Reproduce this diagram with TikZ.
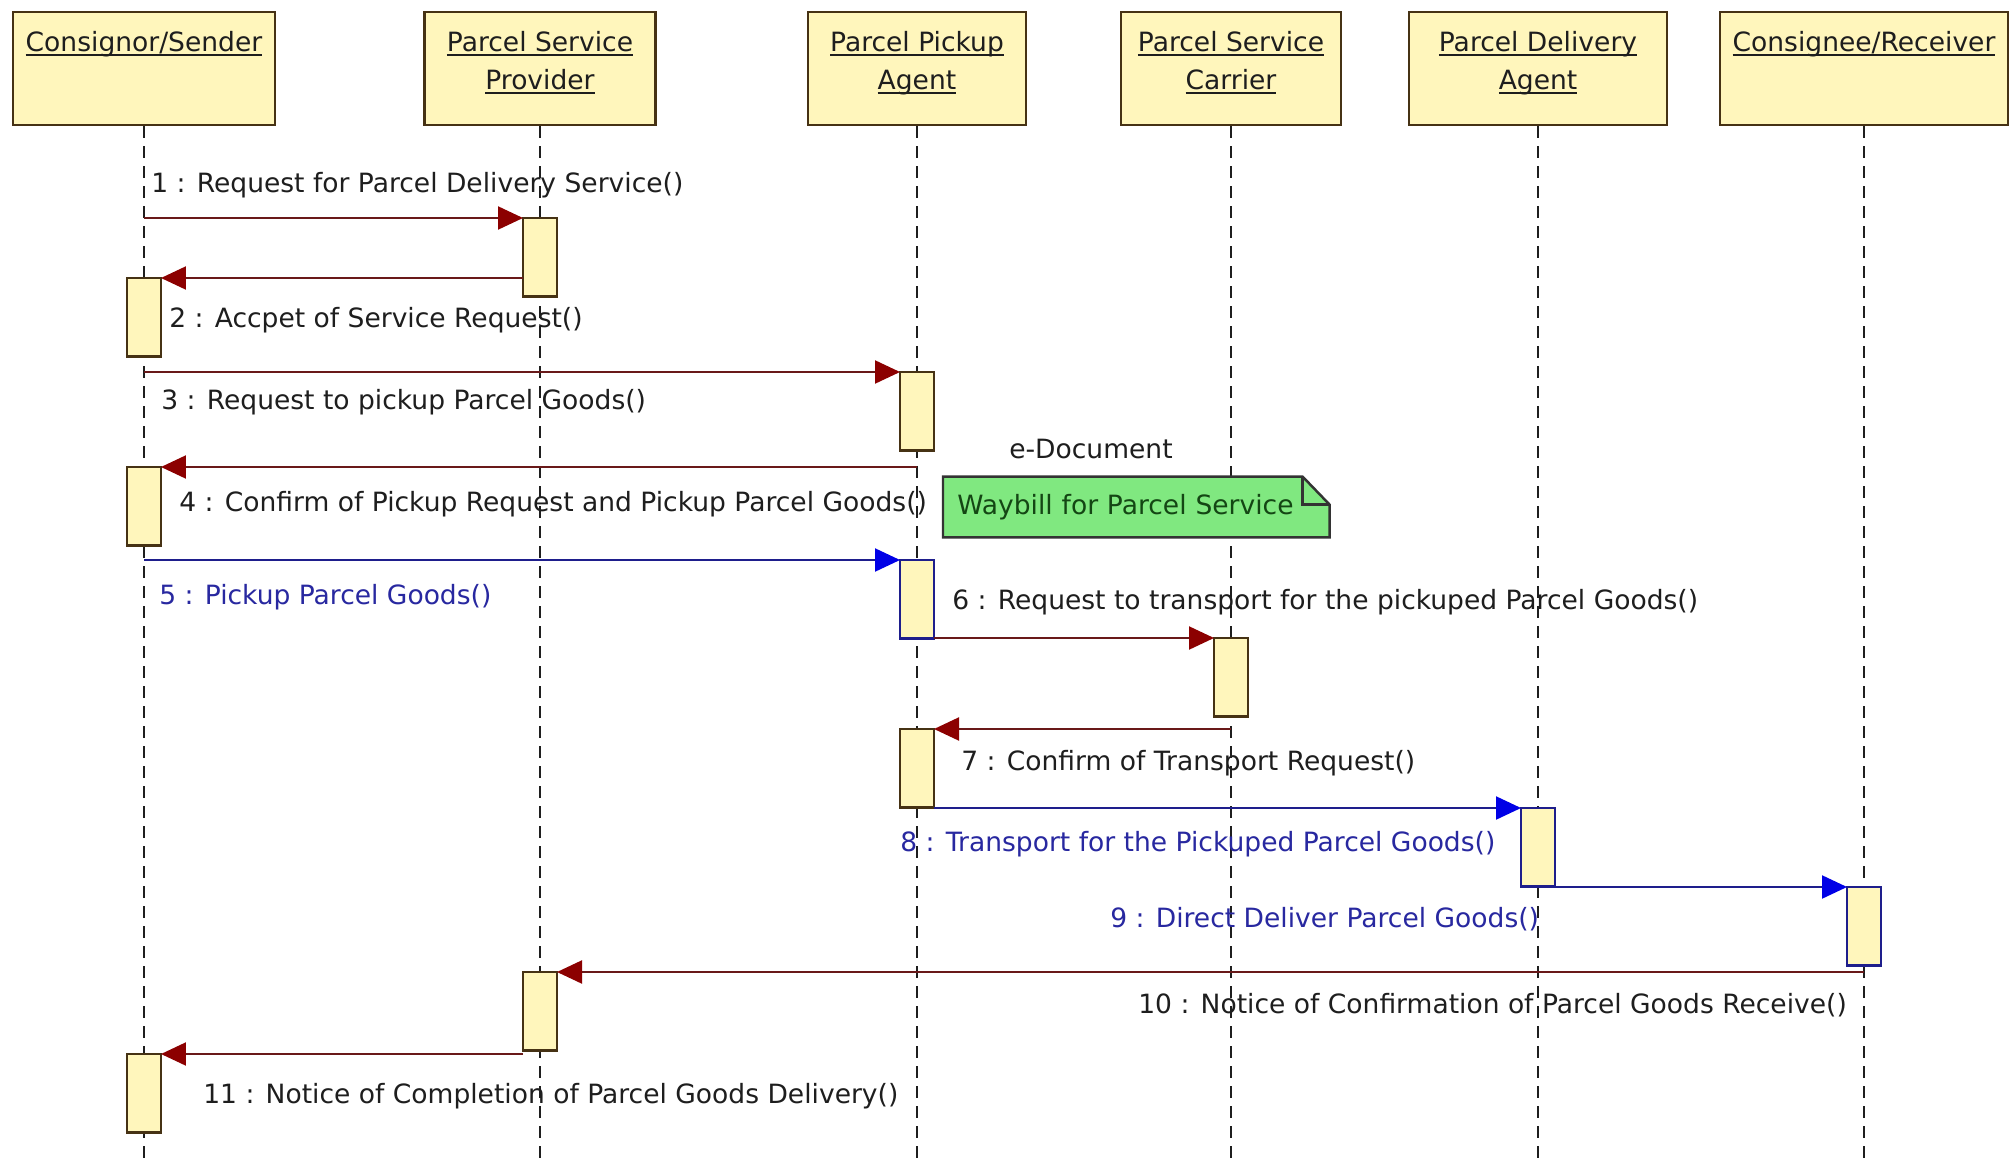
\documentclass[tikz,border=0pt]{standalone}
\usepackage{fontspec}
\setmainfont{DejaVu Sans}
\usetikzlibrary{positioning,arrows.meta}

\definecolor{headfill}{RGB}{255,246,188}
\definecolor{boxline}{RGB}{70,50,20}
\definecolor{msgred}{RGB}{105,25,25}
\definecolor{tipred}{RGB}{140,0,0}
\definecolor{msgblue}{RGB}{30,30,140}
\definecolor{tipblue}{RGB}{0,0,230}
\definecolor{bluetext}{RGB}{40,40,160}
\definecolor{notefill}{RGB}{128,232,128}
\definecolor{notetext}{RGB}{20,70,20}
\definecolor{labeltext}{RGB}{30,30,30}

\newcommand{\seqfont}{\fontsize{15.1pt}{21.6pt}\selectfont}
\newcommand{\uname}[1]{\setbox0\hbox{#1}\rlap{\rule[-0.16em]{\wd0}{0.07em}}\box0}

\tikzset{
  head/.style={draw=boxline, fill=headfill, line width=1.6pt, minimum height=2.26cm, inner sep=0pt},
  headtext/.style={anchor=north, align=center, inner sep=0pt, font=\seqfont, text=labeltext},
  act/.style={anchor=north, draw=boxline, fill=headfill, line width=1.3pt, minimum width=0.68cm, minimum height=1.57cm, inner sep=0pt, outer sep=0pt},
  actb/.style={act, draw=msgblue},
  life/.style={draw=labeltext, line width=1.3pt, dash pattern=on 0.24cm off 0.16cm},
  msg/.style={draw=msgred, line width=1.2pt, -{Triangle[length=0.5cm,width=0.46cm,color=tipred]}},
  msgb/.style={draw=msgblue, line width=1.2pt, -{Triangle[length=0.5cm,width=0.46cm,color=tipblue]}},
  lbl/.style={anchor=west, inner sep=0pt, font=\seqfont, text=labeltext},
  lblb/.style={lbl, text=bluetext},
  noteline/.style={draw=black!80, line width=1.4pt},
  notebox/.style={anchor=west, text width=7.16cm, inner xsep=0.28cm, inner ysep=0pt, minimum height=1.2cm,
    font=\seqfont, text=notetext,
    path picture={\fill[notefill] (path picture bounding box.south west)
      |- ([xshift=-0.54cm]path picture bounding box.north east)
      -- ([yshift=-0.56cm]path picture bounding box.north east)
      -- (path picture bounding box.south east) -- cycle;}},
}

\begin{document}
\begin{tikzpicture}[x=0.02cm, y=-0.02cm]
    \fill[white] (0,0) rectangle (2010,1161);
    % heads of the lifelines
    \node[head, minimum width=5.24cm] (hS) at (144,68.5) {};
    \node[head, minimum width=4.62cm] (hP) at (540,68.5) {};
    \node[head, minimum width=4.36cm] (hA) at (917,68.5) {};
    \node[head, minimum width=4.40cm] (hC) at (1231,68.5) {};
    \node[head, minimum width=5.16cm] (hD) at (1538,68.5) {};
    \node[head, minimum width=5.76cm] (hR) at (1864,68.5) {};
    \node[headtext] (tS) at (144,31) {\uname{Consignor/Sender}};
    \node[headtext] (tP) at (540,31) {\uname{Parcel Service}\\\uname{Provider}};
    \node[headtext] (tA) at (917,31) {\uname{Parcel Pickup}\\\uname{Agent}};
    \node[headtext] (tC) at (1231,31) {\uname{Parcel Service}\\\uname{Carrier}};
    \node[headtext] (tD) at (1538,31) {\uname{Parcel Delivery}\\\uname{Agent}};
    \node[headtext] (tR) at (1864,31) {\uname{Consignee/Receiver}};
    % lifelines
    \coordinate (eS) at (144,1161);
    \coordinate (eP) at (540,1161);
    \coordinate (eA) at (917,1161);
    \coordinate (eC) at (1231,1161);
    \coordinate (eD) at (1538,1161);
    \coordinate (eR) at (1864,1161);
    \draw[life] (hS) -- (eS);
    \draw[life] (hP) -- (eP);
    \draw[life] (hA) -- (eA);
    \draw[life] (hC) -- (eC);
    \draw[life] (hD) -- (eD);
    \draw[life] (hR) -- (eR);
    % activations
    \node[act] (aP1) at (540,218) {};
    \node[act] (aS1) at (144,278) {};
    \node[act] (aA1) at (917,372) {};
    \node[act] (aS2) at (144,467) {};
    \node[actb] (aA2) at (917,560) {};
    \node[act] (aC1) at (1231,638) {};
    \node[act] (aA3) at (917,729) {};
    \node[actb] (aD1) at (1538,808) {};
    \node[actb] (aR1) at (1864,887) {};
    \node[act] (aP2) at (540,972) {};
    \node[act] (aS3) at (144,1054) {};
    % messages
    \coordinate (m1) at (144,218);
    \coordinate (m3) at (144,372);
    \coordinate (m4) at (917,467);
    \coordinate (m5) at (144,560);
    \coordinate (m7) at (1231,729);
    \coordinate (m10) at (1864,972);
    \draw[msg] (m1) -- (aP1.north west);
    \draw[msg] (aP1.west |- aS1.north) -- (aS1.north east);
    \draw[msg] (m3) -- (aA1.north west);
    \draw[msg] (m4) -- (aS2.north east);
    \draw[msgb] (m5) -- (aA2.north west);
    \draw[msg] (aA2.east |- aC1.north) -- (aC1.north west);
    \draw[msg] (m7) -- (aA3.north east);
    \draw[msgb] (aA3.east |- aD1.north) -- (aD1.north west);
    \draw[msgb] (aD1.east |- aR1.north) -- (aR1.north west);
    \draw[msg] (m10) -- (aP2.north east);
    \draw[msg] (aP2.west |- aS3.north) -- (aS3.north east);
    \node[lbl] (l1) at (151,185) {1 : Request for Parcel Delivery Service()};
    \node[lbl] (l2) at (169,320) {2 : Accpet of Service Request()};
    \node[lbl] (l3) at (161,402) {3 : Request to pickup Parcel Goods()};
    \node[lbl] (l4) at (179,504) {4 : Confirm of Pickup Request and Pickup Parcel Goods()};
    \node[lblb] (l5) at (159,597) {5 : Pickup Parcel Goods()};
    \node[lbl] (l6) at (952,602) {6 : Request to transport for the pickuped Parcel Goods()};
    \node[lbl] (l7) at (961,763) {7 : Confirm of Transport Request()};
    \node[lblb] (l8) at (900,844) {8 : Transport for the Pickuped Parcel Goods()};
    \node[lblb] (l9) at (1110,919) {9 : Direct Deliver Parcel Goods()};
    \node[lbl] (l10) at (1138,1005) {10 : Notice of Confirmation of Parcel Goods Receive()};
    \node[lbl] (l11) at (203,1096) {11 : Notice of Completion of Parcel Goods Delivery()};
    % e-document note
    \node[lbl, anchor=center] (edoc) at (1091,449) {e-Document};
    \node[notebox] (note) at (943,507) {Waybill for Parcel Service};
    \draw[noteline] (note.south west) |- ([xshift=-0.54cm]note.north east)
        -- ([yshift=-0.56cm]note.north east) -- (note.south east) -- cycle;
    \draw[noteline] ([xshift=-0.54cm]note.north east) |- ([yshift=-0.56cm]note.north east);
\end{tikzpicture}
\end{document}
